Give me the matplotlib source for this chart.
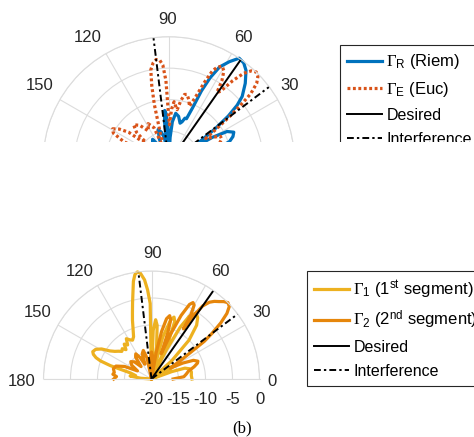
import numpy as np
import matplotlib
matplotlib.use("Agg")
import matplotlib.pyplot as plt
from matplotlib.patches import Rectangle
from matplotlib.transforms import offset_copy

plt.rcParams['font.family'] = ['Liberation Sans', 'DejaVu Sans']
plt.rcParams['mathtext.fontset'] = 'custom'
plt.rcParams['mathtext.rm'] = 'Liberation Serif'
plt.rcParams['mathtext.it'] = 'Liberation Serif:italic'
plt.rcParams['mathtext.sf'] = 'Liberation Sans'

# ===========================
# data (angle in deg, gain in dB)
# ===========================
desired_deg = 55
interf_deg = [37, 97]

riem_theta = [0, 3, 6, 9, 12, 16, 19, 22, 25, 28, 30, 32, 34, 36, 38, 40, 42, 46, 50,
              53, 56, 59, 62, 64, 65.5, 66.5, 68, 70, 72, 74, 78, 82, 85, 87, 89,
              91, 93, 94.5, 96, 97.5, 100, 104, 108, 112, 116, 120, 125, 130, 135,
              140, 145, 150, 155, 160, 165, 170, 175, 180]
riem_db = [-14, -12.5, -12, -13, -16, -12, -9.8, -9.0, -8.6, -9.5, -12, -18, -14, -11, -8, -5.8, -4.3, -2.5, -0.9,
           -0.2, 0, -1.3, -2.8, -5, -7.5, -10.5, -12.5, -12.5, -13.2, -13.5, -12.5, -12.1, -13.5, -16, -20,
           -15, -12.3, -11.7, -13.5, -20, -16, -15, -14.5, -16, -20, -17, -15.5, -16, -20,
           -18, -17.5, -19, -20, -18, -17, -18.5, -20, -19]

euc_theta = [0, 4, 8, 12, 16, 20, 24, 27, 30, 33, 35, 37, 38.5, 40, 42, 44, 46, 48, 50,
             52, 54, 55.5, 57, 59, 61, 63, 64.5, 66, 68, 70, 72, 75, 77, 79, 81, 83, 85,
             87, 89, 90.5, 92, 93.5, 95, 97, 99, 101, 102.5, 104, 106, 109, 113, 118,
             123, 128, 133, 137, 140, 143, 146, 149, 152, 155, 158, 162, 166, 170, 175, 180]
euc_db = [-13, -11, -12, -16, -13, -11.5, -10.8, -10.8, -12, -13, -11, -8, -5.5, -3, -1.2, -0.3, 0, -0.4, -1.5,
          -3.5, -6, -6.5, -4.5, -3, -2.5, -3, -3.8, -6, -9, -10.5, -9.6, -8.8, -8.9, -10, -11.5, -11, -10.3,
          -11.5, -14, -12, -7, -4.5, -3.7, -3.5, -4, -5, -7.5, -10.5, -15, -18, -14, -13,
          -14, -12.5, -11.8, -13, -16, -12, -10.5, -9.6, -10, -12, -16, -14, -13, -15, -17, -15]

seg1_theta = [0, 5, 10, 15, 18, 20, 22, 26, 30, 34, 38, 42, 46, 50, 53, 56, 59, 61, 63,
              64.5, 66, 68, 70, 72, 75, 78, 81, 84, 86, 88, 89.5, 91, 92.5, 94, 96, 97.5,
              99, 100.5, 102, 104, 106, 108, 110, 113, 116, 119, 122, 125, 128, 131, 134,
              137, 140, 143, 146, 149, 152, 155, 157, 159, 160.5, 162, 164, 168, 172, 176, 180]
seg1_db = [-12.5, -12.6, -12.5, -12.7, -13.5, -16, -20, -17, -15, -16.5, -20, -15, -10, -7, -5.8, -5.2, -6.5, -9, -14,
           -20, -12, -8.5, -7.8, -8.5, -12, -20, -14, -10, -9, -11, -20, -6, -3.5, -1.6, -0.3, 0,
           -0.4, -1.6, -3.5, -5.5, -7.2, -8.6, -10, -11.5, -12, -11.7, -11.2, -12.3, -11.8, -12.8, -12.2,
           -12.5, -12, -11.5, -10.7, -9.2, -8.3, -8.0, -8.3, -9, -10, -12, -16, -17, -16, -18, -20]

seg2_theta = [0, 4, 8, 12, 16, 19, 21, 24, 27, 30, 33, 35.5, 37, 39, 41, 43, 45, 47, 49,
              51, 53, 55, 56.5, 57.5, 58.5, 60, 61.5, 63, 65, 67, 69, 70.5, 72, 74, 76,
              78, 80, 82, 86, 90, 94, 98, 102, 106, 110, 114, 118, 122, 126, 130, 135,
              140, 145, 150, 155, 160, 165, 170, 173, 176, 180]
seg2_db = [-16, -14, -13.5, -13, -11.8, -11, -10.8, -11.5, -13.5, -16, -13, -8, -6, -3.5, -1.5, -0.3, 0, -0.4, -1.0,
           -1.5, -2.2, -3.5, -6, -9, -6, -4.2, -3.9, -4.5, -7, -11, -15, -11, -8.5, -7.8, -8.5,
           -11, -15, -20, -16, -15, -16.5, -20, -16, -14.5, -15, -17, -15.5, -14.5, -15, -17, -15.5,
           -15, -15.5, -17, -14.5, -13, -12.7, -13, -12.8, -13.5, -13]

theta_ticks = [0, 30, 60, 90, 120, 150, 180]
r_ticks = [-20, -15, -10, -5, 0]

# ===========================
# styles
# ===========================
grid_c = '#dcdcdc'
blue = '#0072BD'
red = '#D95319'
yellow = '#EDB120'
orange = '#E6860B'
dashdot = (0, (3.5, 1.6, 1.2, 1.6))

W, H = 474, 437
fig = plt.figure(figsize=(W / 100, H / 100), dpi=100)


def polar_panel(cx, cy, R, lab_pos):
    # a half polar wedge sits in the upper half of a square box
    ax = fig.add_axes([(cx - R) / W, (H - cy - 0.5 * R) / H, 2 * R / W, 2 * R / H],
                      projection='polar')
    ax.set_thetamin(0)
    ax.set_thetamax(180)
    ax.set_rlim(-20, 0)
    ax.set_thetagrids(theta_ticks, [''] * len(theta_ticks))
    ax.set_rgrids(r_ticks[1:], [''] * 4)
    ax.grid(True, color=grid_c, lw=0.8)
    for s in ax.spines.values():
        s.set_color(grid_c)
        s.set_linewidth(0.8)
    ax.tick_params(length=0)
    ax.set_axisbelow(True)
    # theta labels, offsets in pixels from the centre
    for a in theta_ticks:
        dx, dy = lab_pos[a]
        tr = offset_copy(ax.transData, fig=fig, x=dx, y=dy, units='dots')
        ax.text(0, -20, str(a), transform=tr, ha='center', va='center',
                fontsize=12, color='#262626', clip_on=False)
    # r labels below the baseline
    for r in r_ticks:
        tr = offset_copy(ax.transData, fig=fig, x=0, y=-21, units='dots')
        ax.text(0, r, str(r), transform=tr, ha='center', va='center',
                fontsize=12, color='#262626', clip_on=False)
    return ax


def pat(ax, th, db, **kw):
    return ax.plot(np.deg2rad(th), np.clip(db, -20, 0), clip_on=False, **kw)[0]


def steer_lines(ax):
    h1 = ax.plot(np.deg2rad([desired_deg] * 2), [-20, 0], color='k', lw=1.4)[0]
    th = []
    rr = []
    for a in interf_deg:
        th += [np.deg2rad(a), np.deg2rad(a), np.nan]
        rr += [-20, 0, np.nan]
    h2 = ax.plot(th, rr, color='k', lw=1.4, linestyle=dashdot)[0]
    return h1, h2


leg_kw = dict(loc='upper left', bbox_transform=fig.transFigure, borderaxespad=0,
              fontsize=11.5, handlelength=2.2, handletextpad=0.25, borderpad=0.45,
              labelspacing=0.55, frameon=True, fancybox=False, edgecolor='#262626',
              framealpha=1)


def fix_legend(lg):
    lg.get_frame().set_linewidth(0.8)
    for t in lg.get_texts()[:2]:
        t.set_fontsize(12)


# ===========================
# top panel (Riem / Euc)
# ===========================
ax1 = polar_panel(168.8, 162.5, 125.8,
                  {0: (139, -2), 30: (120.7, 77.5), 60: (74.2, 125), 90: (-1, 143.5),
                   120: (-81.6, 125), 150: (-129, 77.5), 180: (-150, -2)})
hb = pat(ax1, riem_theta, riem_db, color=blue, lw=2.3)
he = pat(ax1, euc_theta, euc_db, color=red, lw=2.3, linestyle=(0, (0.9, 0.8)))
hd, hi = steer_lines(ax1)
lg1 = fig.legend([hb, he, hd, hi],
                 [r'$\Gamma_{\mathsf{R}}$ (Riem)', r'$\Gamma_{\mathsf{E}}$ (Euc)', 'Desired', 'Interference'],
                 bbox_to_anchor=(340 / W, 1 - 45 / H), **leg_kw)
fix_legend(lg1)

# the top figure is cut off here
fig.add_artist(Rectangle((0, 1 - 244 / H), 1, (244 - 142) / H, transform=fig.transFigure,
                         facecolor='white', edgecolor='none', zorder=20))

# ===========================
# bottom panel (segments)
# ===========================
ax2 = polar_panel(151.5, 379, 108,
                  {0: (120.2, -2), 30: (110.2, 66.5), 60: (68.5, 108), 90: (1, 126),
                   120: (-72.3, 108), 150: (-114.3, 66.5), 180: (-129.8, -2)})
h1 = pat(ax2, seg1_theta, seg1_db, color=yellow, lw=2.3)
h2 = pat(ax2, seg2_theta, seg2_db, color=orange, lw=2.3)
hd, hi = steer_lines(ax2)
lg2 = fig.legend([h1, h2, hd, hi],
                 [r'$\Gamma_{\mathsf{1}}$ (1$^{\mathsf{st}}$ segment)',
                  r'$\Gamma_{\mathsf{2}}$ (2$^{\mathsf{nd}}$ segment)', 'Desired', 'Interference'],
                 bbox_to_anchor=(307 / W, 1 - 271 / H), **leg_kw)
fix_legend(lg2)

fig.text(242 / W, 1 - 428 / H, '(b)', ha='center', va='center', fontsize=12,
         family='Liberation Serif')

fig.savefig('out.png', dpi=100)
